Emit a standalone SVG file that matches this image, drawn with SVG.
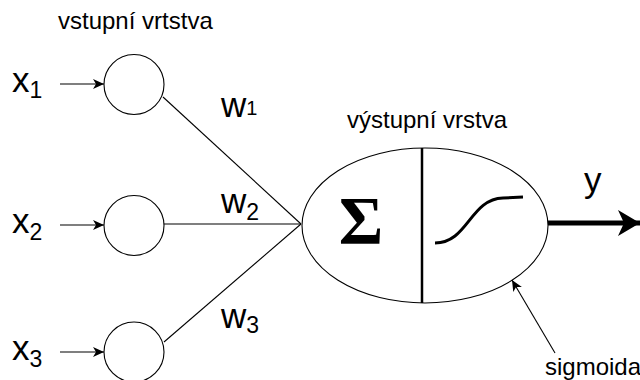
<svg xmlns="http://www.w3.org/2000/svg" width="640" height="380" viewBox="0 0 640 380">
<defs>
<style>
text{font-family:"Liberation Sans",Arial,sans-serif;fill:#000}
.lbl{font-size:24px}
.var{font-size:35px}
.sub{font-size:23px}
.node{fill:#fff;stroke:#000;stroke-width:1.1}
.edge{stroke:#000;stroke-width:1.1;fill:none}
</style>
<marker id="ah" viewBox="0 0 11 10" refX="11" refY="5" markerWidth="11" markerHeight="10" markerUnits="userSpaceOnUse" orient="auto">
<path d="M0,0 L11,5 L0,10 L3,5 Z" fill="#000"/>
</marker>
<marker id="ahBig" viewBox="0 0 22 26" refX="22" refY="13" markerWidth="22" markerHeight="26" markerUnits="userSpaceOnUse" orient="auto">
<path d="M0,0 L22,13 L0,26 L6,13 Z" fill="#000"/>
</marker>
</defs>
<rect width="640" height="380" fill="#fff"/>
<text class="lbl" x="58" y="29">vstupní vrtstva</text>
<text class="lbl" x="347" y="128">výstupní vrstva</text>

<g id="connectors">
<line class="edge" x1="60" y1="84" x2="104" y2="84" marker-end="url(#ah)"/>
<line class="edge" x1="60" y1="225" x2="104" y2="225" marker-end="url(#ah)"/>
<line class="edge" x1="60" y1="352" x2="104" y2="352" marker-end="url(#ah)"/>
<line class="edge" x1="163" y1="97" x2="301" y2="224"/>
<line class="edge" x1="164" y1="224" x2="301" y2="224"/>
<line class="edge" x1="164" y1="342" x2="301" y2="224"/>
<line x1="548" y1="223" x2="640" y2="223" stroke="#000" stroke-width="5" marker-end="url(#ahBig)"/>
<line class="edge" x1="555" y1="353" x2="512" y2="280" marker-end="url(#ah)"/>
</g>

<g id="in1"><circle class="node" cx="134" cy="84.5" r="30"/></g>
<g id="in2"><circle class="node" cx="134" cy="225.5" r="30"/></g>
<g id="in3"><circle class="node" cx="134" cy="352" r="30"/></g>

<g id="x1"><text class="var" x="12" y="92">x<tspan class="sub" dy="6">1</tspan></text></g>
<g id="x2"><text class="var" x="12" y="233">x<tspan class="sub" dy="7">2</tspan></text></g>
<g id="x3"><text class="var" x="12" y="360">x<tspan class="sub" dy="7">3</tspan></text></g>

<g id="w1"><text class="var" x="221" y="117">w<tspan style="font-size:20px" dy="-2">1</tspan></text></g>
<g id="w2"><text class="var" x="221" y="213">w<tspan class="sub" dy="7">2</tspan></text></g>
<g id="w3"><text class="var" x="221" y="328">w<tspan class="sub" dy="5">3</tspan></text></g>

<g id="output">
<ellipse cx="425" cy="225.5" rx="123" ry="77.5" fill="#fff" stroke="#000" stroke-width="1.1"/>
<line x1="422" y1="148" x2="422" y2="303" stroke="#000" stroke-width="2.5"/>
<text x="361" y="243" text-anchor="middle" style="font-family:'Liberation Serif','DejaVu Serif',serif;font-size:68px;font-weight:bold">Σ</text>
<path d="M435,243 C468,243 470,199 503,198 L523,197" fill="none" stroke="#000" stroke-width="3"/>
</g>

<g id="y"><text class="var" x="584" y="192">y</text></g>
<g id="sigmoida"><text class="lbl" x="545" y="375">sigmoida</text></g>
</svg>
